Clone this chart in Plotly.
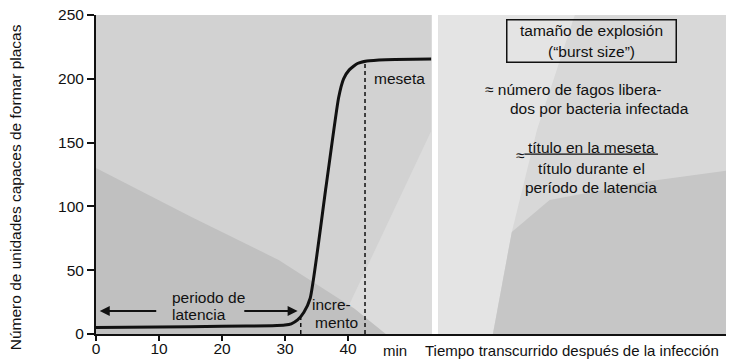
import plotly.graph_objects as go

## Datos de la curva de un solo paso
tiempo_min = [0, 10, 20, 28, 30, 31, 32, 33, 34, 36.5, 38.5, 39.3, 40.2, 41.5, 43, 46, 53.2]
placas = [5, 5.5, 6, 6.5, 7, 8, 11, 17, 28, 115, 185, 200, 207, 212, 214, 215, 215.5]

fin_latencia = 32.5      # min
fin_incremento = 42.7    # min
titulo_latencia_fin = 14
titulo_meseta_ini = 212

x_ticks = [0, 10, 20, 30, 40]
y_ticks = [0, 50, 100, 150, 200, 250]

FONT = "Liberation Sans, Arial, sans-serif"
INK = "#111111"

fig = go.Figure()

# fondo tramado (aprox. en grises planos)
fondo = [
    # panel izquierdo
    ([0, 53.3, 53.3, 0], [0, 0, 250, 250], "#d2d2d2"),
    ([38, 53.3, 53.3], [0, 0, 160], "#dcdcdc"),
    ([0, 0, 15, 29, 41, 46], [0, 130, 92, 58, 20, 0], "#c0c0c0"),
    # panel derecho
    ([54.3, 100, 100, 54.3], [0, 0, 250, 250], "#d8d8d8"),
    ([54.3, 63, 66, 70, 76, 54.3], [0, 0, 80, 160, 250, 250], "#e4e4e4"),
    ([63, 100, 100, 88, 72, 66], [0, 0, 128, 120, 105, 80], "#c6c6c6"),
]
for xs, ys, col in fondo:
    fig.add_trace(go.Scatter(x=xs, y=ys, fill="toself", fillcolor=col, mode="none",
                             hoverinfo="skip", showlegend=False))

# líneas discontinuas verticales
fig.add_trace(go.Scatter(x=[fin_latencia, fin_latencia], y=[0, titulo_latencia_fin], mode="lines",
                         line=dict(color=INK, width=1.5, dash="4px,3px"), showlegend=False))
fig.add_trace(go.Scatter(x=[fin_incremento, fin_incremento], y=[0, titulo_meseta_ini], mode="lines",
                         line=dict(color=INK, width=1.5, dash="4px,3px"), showlegend=False))

# curva
fig.add_trace(go.Scatter(x=tiempo_min, y=placas, mode="lines",
                         line=dict(color=INK, width=3, shape="spline", smoothing=0.5),
                         showlegend=False))

txt = dict(family=FONT, size=15.5, color=INK)
ann = []
def label(x, y, text, xanchor="left", **kw):
    ann.append(dict(x=x, y=y, text=text, showarrow=False, xanchor=xanchor,
                    yanchor="middle", font=txt, **kw))

label(11.7, 29, "periodo de")
label(11.7, 14.9, "latencia")
label(34.0, 23.5, "incre-")
label(34.4, 9.4, "mento")
label(43.8, 200.6, "meseta")

# flechas del periodo de latencia
for x_ini, x_fin in [(9.8, 0.6), (23.3, 32.0)]:
    ann.append(dict(x=x_fin, y=18, ax=x_ini, ay=18, xref="x", yref="y", axref="x", ayref="y",
                    showarrow=True, arrowhead=2, arrowsize=1, arrowwidth=2, arrowcolor=INK, text=""))

# recuadro
ann.append(dict(x=78.7, y=230, text="tamaño de explosión<br>(“burst size”)", showarrow=False,
                xanchor="center", yanchor="middle", font=txt, align="center",
                width=166, height=39, bordercolor=INK, borderwidth=1.5, borderpad=1))
label(61.5, 192, "≈ número de fagos libera-")
label(65.4, 177, "dos por bacteria infectada")
label(66.3, 140, "≈")
label(78.6, 146, "título en la meseta", xanchor="center")
label(78.6, 130, "título durante el", xanchor="center")
label(78.6, 115, "período de latencia", xanchor="center")

# eje x: textos
ann.append(dict(x=45.2, y=0, yshift=-16, text="min", showarrow=False, xanchor="left",
                yanchor="middle", font=dict(family=FONT, size=15, color=INK)))
ann.append(dict(x=51.9, y=0, yshift=-16, text="Tiempo transcurrido después de la infección",
                showarrow=False, xanchor="left", yanchor="middle",
                font=dict(family=FONT, size=15, color=INK)))
# título eje y
ann.append(dict(xref="paper", yref="paper", x=-0.1286, y=0.46, text="Número de unidades capaces de formar placas",
                textangle=-90, showarrow=False, xanchor="center", yanchor="middle",
                font=dict(family=FONT, size=15.5, color=INK)))

fig.add_shape(type="line", x0=68.0, x1=89.2, y0=141, y1=141, line=dict(color=INK, width=1.2))

# la página añade 8 px de margen: la figura se reduce para que el área de trazado caiga igual
fig.update_layout(
    width=728, height=351,
    margin=dict(l=88, r=10, t=7, b=25, autoexpand=False),
    paper_bgcolor="white", plot_bgcolor="white",
    annotations=ann,
    font=dict(family=FONT, color=INK),
)
fig.update_xaxes(range=[0, 100], tickvals=x_ticks, ticks="outside", ticklen=5, tickwidth=1.5,
                 tickcolor=INK, showline=True, linecolor=INK, linewidth=2, showgrid=False,
                 zeroline=False, automargin=False, ticklabeloverflow="allow", ticklabelstandoff=-6,
                 tickfont=dict(size=15.5, family=FONT, color=INK))
fig.update_yaxes(range=[0, 250], tickvals=y_ticks, ticks="outside", ticklen=7, tickwidth=1.5,
                 tickcolor=INK, showline=True, linecolor=INK, linewidth=2, showgrid=False,
                 zeroline=False, automargin=False, ticklabeloverflow="allow",
                 tickfont=dict(size=15.5, family=FONT, color=INK))

fig.write_html("out.html")
